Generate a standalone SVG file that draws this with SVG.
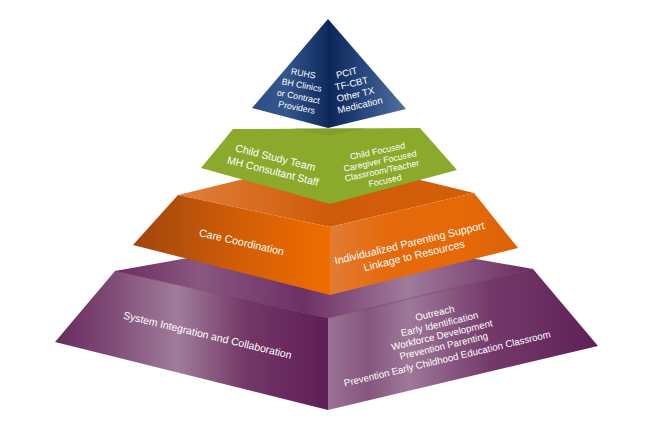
<svg xmlns="http://www.w3.org/2000/svg" width="650" height="422" viewBox="0 0 650 422">
  <defs>
    <linearGradient id="gBlueL" gradientUnits="userSpaceOnUse" x1="252" y1="0" x2="328" y2="0">
      <stop offset="0" stop-color="#2E4F86"/>
      <stop offset="0.45" stop-color="#34568C"/>
      <stop offset="1" stop-color="#0E2A5E"/>
    </linearGradient>
    <linearGradient id="gBlueR" gradientUnits="userSpaceOnUse" x1="328" y1="0" x2="406" y2="0">
      <stop offset="0" stop-color="#0C2558"/>
      <stop offset="0.5" stop-color="#2A4A80"/>
      <stop offset="1" stop-color="#52719E"/>
    </linearGradient>
    <linearGradient id="gOrTop" gradientUnits="userSpaceOnUse" x1="178" y1="0" x2="474" y2="0">
      <stop offset="0" stop-color="#E2803A"/>
      <stop offset="0.5" stop-color="#CF5B0A"/>
      <stop offset="1" stop-color="#D55F08"/>
    </linearGradient>
    <linearGradient id="gOrL" gradientUnits="userSpaceOnUse" x1="133" y1="0" x2="330" y2="0">
      <stop offset="0" stop-color="#A0460E"/>
      <stop offset="0.55" stop-color="#D25E06"/>
      <stop offset="1" stop-color="#F06C00"/>
    </linearGradient>
    <linearGradient id="gOrR" gradientUnits="userSpaceOnUse" x1="330" y1="0" x2="518" y2="0">
      <stop offset="0" stop-color="#E27C34"/>
      <stop offset="0.3" stop-color="#E56A0C"/>
      <stop offset="0.7" stop-color="#E66906"/>
      <stop offset="1" stop-color="#DA6208"/>
    </linearGradient>
    <linearGradient id="gPuTop" gradientUnits="userSpaceOnUse" x1="115" y1="0" x2="533" y2="0">
      <stop offset="0" stop-color="#6C2A61"/>
      <stop offset="0.2" stop-color="#88577F"/>
      <stop offset="0.45" stop-color="#6E3066"/>
      <stop offset="0.7" stop-color="#A07A9B"/>
      <stop offset="1" stop-color="#6A2A60"/>
    </linearGradient>
    <linearGradient id="gPuL" gradientUnits="userSpaceOnUse" x1="55" y1="0" x2="328" y2="0">
      <stop offset="0" stop-color="#6A2A5F"/>
      <stop offset="0.2" stop-color="#7E4A76"/>
      <stop offset="0.45" stop-color="#A07C9A"/>
      <stop offset="0.7" stop-color="#733767"/>
      <stop offset="1" stop-color="#5F1F56"/>
    </linearGradient>
    <linearGradient id="gPuR" gradientUnits="userSpaceOnUse" x1="328" y1="0" x2="598" y2="0">
      <stop offset="0" stop-color="#9A7295"/>
      <stop offset="0.15" stop-color="#86567E"/>
      <stop offset="0.3" stop-color="#9E7899"/>
      <stop offset="0.6" stop-color="#74396A"/>
      <stop offset="1" stop-color="#5E2157"/>
    </linearGradient>
    <style>
      .lbl { font-family: "Liberation Sans", Arial, sans-serif; fill: #FFFFFF; text-anchor: middle; }
    </style>
  </defs>

  <rect width="650" height="422" fill="#FFFFFF"/>

  <g id="tier-base">
    <polygon points="115,271 328,233 533,269 328,318" fill="url(#gPuTop)"/>
    <polygon points="115,271 328,318 328,410 55,342" fill="url(#gPuL)"/>
    <polygon points="328,318 533,269 598,346 328,410" fill="url(#gPuR)"/>
    <polyline points="115,271 328,318 533,269" fill="none" stroke="#5A1E50" stroke-width="0.8" stroke-opacity="0.6"/>
    <text class="lbl" font-size="10.5" transform="translate(207.5,335) rotate(13.5)" dy="0.35em">System Integration and Collaboration</text>
    <text class="lbl" font-size="9.7" transform="translate(434.8,313) rotate(-13.5)" dy="0.35em">Outreach</text>
    <text class="lbl" font-size="9.7" transform="translate(439.5,324) rotate(-13.5)" dy="0.35em">Early Identification</text>
    <text class="lbl" font-size="9.7" transform="translate(441.8,335) rotate(-13.5)" dy="0.35em">Workforce Development</text>
    <text class="lbl" font-size="9.7" transform="translate(443.6,346) rotate(-13.5)" dy="0.35em">Prevention Parenting</text>
    <text class="lbl" font-size="9.7" transform="translate(447.2,358.5) rotate(-13.5)" dy="0.35em">Prevention Early Childhood Education Classroom</text>
  </g>

  <g id="tier-3">
    <polygon points="178,195 330,158 474,193 330,227" fill="url(#gOrTop)"/>
    <polygon points="178,195 330,227 330,295 133,245" fill="url(#gOrL)"/>
    <polygon points="330,227 474,193 518,248 330,295" fill="url(#gOrR)"/>
    <text class="lbl" font-size="10.7" transform="translate(241.7,242) rotate(13)" dy="0.35em">Care Coordination</text>
    <text class="lbl" font-size="10.7" transform="translate(409.5,243) rotate(-13.5)" dy="0.35em">Individualized Parenting Support</text>
    <text class="lbl" font-size="10.7" transform="translate(414,255.5) rotate(-13.5)" dy="0.35em">Linkage to Resources</text>
  </g>

  <g id="tier-2">
    <polygon points="233,129 420,128 457,170 330,204 201,168" fill="#8BAA2B"/>
    <polygon points="292,128 328,136 368,128" fill="#6E8C28" fill-opacity="0.3"/>
    <text class="lbl" font-size="10.5" transform="translate(275.5,157.5) rotate(14)" dy="0.35em">Child Study Team</text>
    <text class="lbl" font-size="10.5" transform="translate(273,171) rotate(14)" dy="0.35em">MH Consultant Staff</text>
    <text class="lbl" font-size="8.8" transform="translate(377.5,151) rotate(-12)" dy="0.35em">Child Focused</text>
    <text class="lbl" font-size="8.8" transform="translate(380,161) rotate(-12)" dy="0.35em">Caregiver Focused</text>
    <text class="lbl" font-size="8.8" transform="translate(382,170.5) rotate(-12)" dy="0.35em">Classroom/Teacher</text>
    <text class="lbl" font-size="8.8" transform="translate(385,180.5) rotate(-12)" dy="0.35em">Focused</text>
  </g>

  <g id="tier-top">
    <polygon points="328,19 252,108 328,128" fill="url(#gBlueL)"/>
    <polygon points="328,19 328,128 406,109" fill="url(#gBlueR)"/>
    <text class="lbl" font-size="8.8" transform="translate(303.3,73.3) rotate(11)" dy="0.35em">RUHS</text>
    <text class="lbl" font-size="8.8" transform="translate(301.7,85) rotate(11)" dy="0.35em">BH Clinics</text>
    <text class="lbl" font-size="8.8" transform="translate(298.5,96.5) rotate(11)" dy="0.35em">or Contract</text>
    <text class="lbl" font-size="8.8" transform="translate(296.7,107.3) rotate(11)" dy="0.35em">Providers</text>
    <text class="lbl" font-size="9.5" transform="translate(346.7,72.7) rotate(-13)" dy="0.35em">PCIT</text>
    <text class="lbl" font-size="9.5" transform="translate(351.5,83.5) rotate(-13)" dy="0.35em">TF-CBT</text>
    <text class="lbl" font-size="9.5" transform="translate(355.5,94.5) rotate(-13)" dy="0.35em">Other TX</text>
    <text class="lbl" font-size="9.5" transform="translate(360,105) rotate(-13)" dy="0.35em">Medication</text>
  </g>
</svg>
